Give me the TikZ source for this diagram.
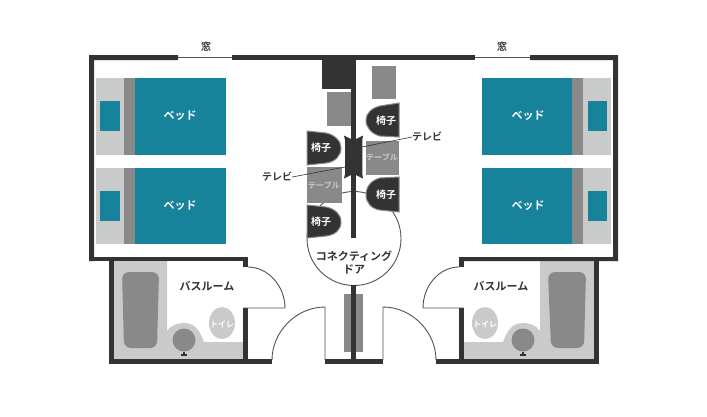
\documentclass[tikz,border=0pt]{standalone}
\usepackage{fontspec}
\setmainfont{Noto Sans CJK JP}[BoldFont={Noto Sans CJK JP Bold}]
\definecolor{wallc}{HTML}{333333}
\definecolor{tealc}{HTML}{17839A}
\definecolor{lightc}{HTML}{C9CACA}
\definecolor{midc}{HTML}{898989}
\tikzset{
  wall/.style={fill=wallc,draw=none},
  thin line/.style={draw=wallc!85!white,line width=0.9pt},
  chairshape/.style={fill=wallc,draw=midc,line width=1pt},
  lab/.style={font=\bfseries\fontsize{10}{11}\selectfont,text=wallc,inner sep=0pt},
  biglab/.style={font=\bfseries\fontsize{11}{12}\selectfont,text=wallc,inner sep=0pt},
  wlab/.style={font=\bfseries\fontsize{10}{11}\selectfont,text=white,inner sep=0pt},
  bedlab/.style={font=\bfseries\fontsize{11}{12}\selectfont,text=white,inner sep=0pt},
  tlab/.style={font=\bfseries\fontsize{8}{9}\selectfont,text=lightc,inner sep=0pt},
}
\begin{document}
\begin{tikzpicture}[x=1pt,y=-1pt]
\useasboundingbox (0,0) rectangle (707,416);
\fill[white] (0,0) rectangle (707,416);
% bathroom floors
\fill[lightc] (114,261) -- (167,261) -- (167,331)
  .. controls (171,325) and (178,323) .. (184,323) .. controls (196,323) and (200,332) .. (204,342) -- (245,342) -- (245,360) -- (114,360) -- cycle;
\fill[lightc] (594,261) -- (540,261) -- (540,331)
  .. controls (536,325) and (529,323) .. (523,323) .. controls (511,323) and (507,332) .. (503,342) -- (462,342) -- (462,360) -- (594,360) -- cycle;
% tubs
\fill[midc,rounded corners=7pt] (122,272) -- (159,272) -- (157,348) -- (124,348) -- cycle;
\fill[midc,rounded corners=7pt] (548,272) -- (586,272) -- (584,348) -- (551,348) -- cycle;
% basins
\fill[midc] (184,340) circle[radius=11.5];
\fill[midc] (523,340) circle[radius=11.5];
\fill[wallc] (181,354) rectangle (187,355.5);
\fill[wallc] (183,351.5) rectangle (185,354);
\fill[wallc] (520,354) rectangle (526,355.5);
\fill[wallc] (522,351.5) rectangle (524,354);
% toilets
\fill[lightc] (222,323) ellipse[x radius=13,y radius=16];
\fill[lightc] (485,323) ellipse[x radius=13,y radius=16];
\node[tlab,text=white] (toiletl) at (222,324) {トイレ};
\node[tlab,text=white] (toiletr) at (485,324) {トイレ};
% beds left
\fill[lightc] (96,78) rectangle (124,155);
\fill[midc] (124,78) rectangle (135,155);
\fill[tealc] (135,78) rectangle (226,155);
\fill[tealc] (100,101) rectangle (120,131);
\fill[lightc] (96,168) rectangle (124,244);
\fill[midc] (124,168) rectangle (135,244);
\fill[tealc] (135,168) rectangle (226,244);
\fill[tealc] (100,191) rectangle (120,221);
% beds right
\fill[lightc] (583,78) rectangle (611,155);
\fill[midc] (572,78) rectangle (583,155);
\fill[tealc] (482,78) rectangle (572,155);
\fill[tealc] (588,101) rectangle (607,131);
\fill[lightc] (583,168) rectangle (611,244);
\fill[midc] (572,168) rectangle (583,244);
\fill[tealc] (482,168) rectangle (572,244);
\fill[tealc] (588,191) rectangle (607,221);
% walls
\fill[wall] (94,261) -- (89,261) -- (89,55) -- (178,55) -- (178,60) -- (94,60) -- cycle;
\fill[wall] (232,55) rectangle (475,60);
\fill[wall] (530,55) -- (618,55) -- (618,261) -- (459,261) -- (459,257) -- (613,257) -- (613,60) -- (530,60) -- cycle;
\fill[wall] (89,257) rectangle (248,261);
\fill[wall] (109,261) rectangle (114,364);
\fill[wall] (109,359) rectangle (272,364);
\fill[wall] (243,261) rectangle (248,267);
\fill[wall] (243,308) rectangle (248,364);
\fill[wall] (325,359) rectangle (383,364);
\fill[wall] (436,359) rectangle (599,364);
\fill[wall] (594,261) rectangle (599,364);
\fill[wall] (459,261) rectangle (464,267);
\fill[wall] (459,308) rectangle (464,364);
% windows
\draw[thin line] (178,57.5) -- (232,57.5);
\draw[thin line] (475,57.5) -- (530,57.5);
% doors
\draw[thin line] (248,267) .. controls (268,267) and (285,286) .. (285,308) -- (243,308);
\draw[thin line] (459,267) .. controls (439,267) and (423,286) .. (423,308) -- (464,308);
\draw[thin line] (325,360) -- (325,307) .. controls (296,307) and (272,332) .. (272,360);
\draw[thin line] (383,360) -- (383,307) .. controls (412,307) and (436,332) .. (436,360);
% connecting door circle
\draw[thin line,fill=white] (354,238.5) circle[radius=47];
% central wall and storage
\fill[midc] (344,294) rectangle (363,352);
\fill[wall] (351,60) rectangle (356,238);
\fill[wall] (351,285) rectangle (356,364);
\fill[wall] (322,60) rectangle (351,89);
\fill[midc] (327,92) rectangle (351,126);
\fill[midc] (372,66) rectangle (396,99);
% tables
\fill[midc] (307,167) rectangle (342,203);
\fill[midc] (366,141) rectangle (399,175);
% chairs
\path[chairshape] (399,103) -- (380,106) .. controls (372,108) and (366,113) .. (366,120) .. controls (366,128) and (372,134) .. (380,136) -- (399,137) -- cycle;
\path[chairshape] (399,177) -- (380,178) .. controls (372,180) and (366,186) .. (366,195) .. controls (366,203) and (372,209) .. (380,210) -- (399,212) -- cycle;
\path[chairshape] (307,131) -- (326,133) .. controls (335,135) and (341,141) .. (341,148) .. controls (341,156) and (335,162) .. (326,163) -- (307,165) -- cycle;
\path[chairshape] (307,205) -- (326,207) .. controls (335,209) and (341,214) .. (341,222) .. controls (341,230) and (335,235) .. (326,236) -- (307,238) -- cycle;
% television
\fill[wall] (344,135.5) -- (351,139) -- (356,139) -- (363,135.5) -- (362.3,140) -- (362.3,174) -- (363,178.5) -- (356,175) -- (351,175) -- (344,178.5) -- (345,174) -- (345,140) -- cycle;
\coordinate (tvr) at (362,147);
\coordinate (tvl) at (345,167);
\node[lab] (tvrlab) at (427,137) {テレビ};
\node[lab] (tvllab) at (277,177) {テレビ};
\draw[wallc,line width=0.6pt] (tvr) -- (tvrlab.west);
\draw[wallc,line width=0.6pt] (tvl) -- (tvllab.east);
% labels
\node[lab] (winl) at (206,47) {窓};
\node[lab] (winr) at (502,47) {窓};
\node[bedlab] (bed1) at (180,116) {ベッド};
\node[bedlab] (bed2) at (180,206) {ベッド};
\node[bedlab] (bed3) at (528,116) {ベッド};
\node[bedlab] (bed4) at (528,206) {ベッド};
\node[wlab] (ch1) at (321,148) {椅子};
\node[wlab] (ch2) at (321,222) {椅子};
\node[wlab] (ch3) at (386,121) {椅子};
\node[wlab] (ch4) at (386,195) {椅子};
\node[tlab] (tb1) at (324,185) {テーブル};
\node[tlab] (tb2) at (382,157) {テーブル};
\node[biglab] (bath1) at (207,286) {バスルーム};
\node[biglab] (bath2) at (501,286) {バスルーム};
\node[biglab] (conn1) at (354,256) {コネクティング};
\node[biglab] (conn2) at (354,269) {ドア};
\end{tikzpicture}
\end{document}
